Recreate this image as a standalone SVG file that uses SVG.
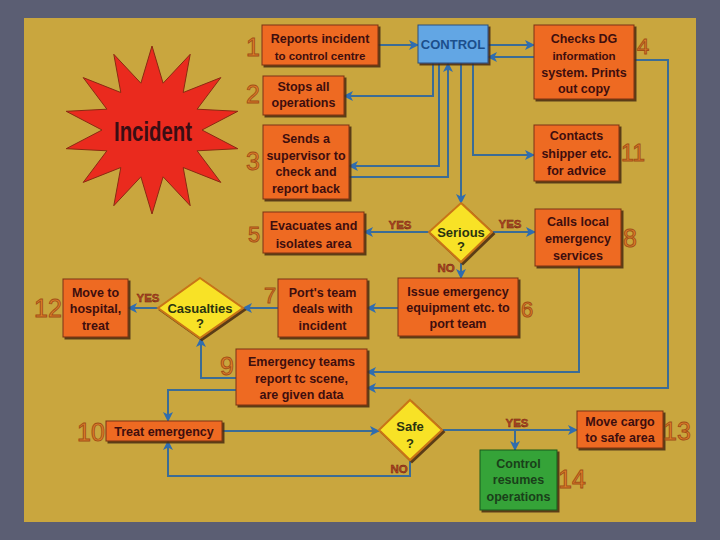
<svg xmlns="http://www.w3.org/2000/svg" width="720" height="540" viewBox="0 0 720 540">
<defs>
<style>
.bx{fill:#ee6a24;stroke:#7a3210;stroke-width:1;filter:url(#sh)}
.gb{fill:#34a338;stroke:#1d5a1d;stroke-width:1;filter:url(#sh)}
.cb{fill:#62a6e4;stroke:#2a4f7a;stroke-width:1;filter:url(#sh)}
.dm{fill:#f8e228;stroke:#c87418;stroke-width:2;filter:url(#sh)}
.t{font-family:"Liberation Sans",Arial,sans-serif;font-weight:bold;font-size:12.5px;fill:#3e0e0e;text-anchor:middle}
.ts{font-size:11.5px}
.tg{fill:#1a401a}
.td{fill:#2a3410;font-size:13px}
.tc{font-family:"Liberation Sans",Arial,sans-serif;font-weight:bold;font-size:13px;fill:#1c4f8c;text-anchor:middle}
.n{font-family:"Liberation Sans",Arial,sans-serif;font-size:25px;fill:#e07e2a;stroke:#a24e16;stroke-width:0.9;text-anchor:middle}
.yn{font-family:"Liberation Sans",Arial,sans-serif;font-weight:bold;font-size:11.5px;fill:#b04422;stroke:#6a2010;stroke-width:0.4;text-anchor:middle}
.c{fill:none;stroke:#3b6c96;stroke-width:2;marker-end:url(#ah)}
</style>
<filter id="sh" x="-10%" y="-10%" width="130%" height="130%">
<feDropShadow dx="2" dy="2" stdDeviation="0.7" flood-color="#4a2a08" flood-opacity="0.85"/>
</filter>
<marker id="ah" viewBox="0 0 10 10" refX="9" refY="5" markerWidth="10" markerHeight="10" markerUnits="userSpaceOnUse" orient="auto">
<path d="M0,0 L10,5 L0,10 L2.5,5 Z" fill="#2f6db0"/>
</marker>
</defs>
<rect x="0" y="0" width="720" height="540" fill="#5b5e73"/>
<rect x="24" y="18" width="672" height="504" fill="#c9a63e"/>

<g id="incident">
<polygon points="152,46 163.1,83.2 190.2,54.3 183.2,92.5 220.8,77.6 197.1,109.2 237.8,111.3 202,130 237.8,148.7 197.1,150.8 220.8,182.4 183.2,167.5 190.2,205.7 163.1,176.8 152,214 140.9,176.8 113.8,205.7 120.8,167.5 83.2,182.4 106.9,150.8 66.2,148.7 102,130 66.2,111.3 106.9,109.2 83.2,77.6 120.8,92.5 113.8,54.3 140.9,83.2" fill="#ea2a1e" stroke="#8a2a12" stroke-width="1"/>
<text x="153" y="141" font-family="Liberation Sans,Arial,sans-serif" font-weight="bold" font-size="27" fill="#3a0e14" text-anchor="middle" textLength="78" lengthAdjust="spacingAndGlyphs">Incident</text>
</g>

<g id="connectors">
<path class="c" d="M378,45 H418"/>
<path class="c" d="M488,45 H534"/>
<path class="c" d="M534,57 H488"/>
<path class="c" d="M634,60 H668 V388 H367"/>
<path class="c" d="M433,63 V96 H344"/>
<path class="c" d="M439,63 V166 H349"/>
<path class="c" d="M349,177 H448 V63"/>
<path class="c" d="M461,63 V203"/>
<path class="c" d="M473,63 V155 H534"/>
<path class="c" d="M429,232 H364"/>
<path class="c" d="M492,232 H535"/>
<path class="c" d="M461,262 V278"/>
<path class="c" d="M398,308 H367"/>
<path class="c" d="M278,308 H243"/>
<path class="c" d="M158,308 H128"/>
<path class="c" d="M579,266 V372 H367"/>
<path class="c" d="M236,378 H201 V338"/>
<path class="c" d="M236,390 H168 V421"/>
<path class="c" d="M222,431 H379"/>
<path class="c" d="M442,430 H577"/>
<path class="c" d="M515,430 V450"/>
<path class="c" d="M410,460 V476 H168 V441"/>
<text class="yn" x="400" y="228.5">YES</text>
<text class="yn" x="510" y="228">YES</text>
<text class="yn" x="446" y="272">NO</text>
<text class="yn" x="148" y="302">YES</text>
<text class="yn" x="517" y="427">YES</text>
<text class="yn" x="399" y="473">NO</text>
</g>

<g id="n1">
<rect class="bx" x="262" y="25" width="116" height="40"/>
<text class="t" x="320" y="42.5">Reports incident</text>
<text class="t ts" x="320" y="59.5">to control centre</text>
<text class="n" x="253" y="56">1</text>
</g>
<g id="control">
<rect class="cb" x="418" y="25" width="70" height="38"/>
<text class="tc" x="453" y="49">CONTROL</text>
</g>
<g id="n2">
<rect class="bx" x="263" y="76" width="81" height="39"/>
<text class="t" x="303.5" y="91">Stops all</text>
<text class="t" x="303.5" y="107">operations</text>
<text class="n" x="253" y="103">2</text>
</g>
<g id="n3">
<rect class="bx" x="263" y="125" width="86" height="74"/>
<text class="t" x="306" y="142.5">Sends a</text>
<text class="t" x="306" y="159.5">supervisor to</text>
<text class="t" x="306" y="176">check and</text>
<text class="t" x="306" y="192.5">report back</text>
<text class="n" x="253" y="170">3</text>
</g>
<g id="n4">
<rect class="bx" x="534" y="25" width="100" height="74"/>
<text class="t" x="584" y="42.5">Checks DG</text>
<text class="t ts" x="584" y="59.5">information</text>
<text class="t" x="584" y="76.5">system. Prints</text>
<text class="t" x="584" y="92.5">out copy</text>
<text class="n" x="643" y="54" style="font-size:22px">4</text>
</g>
<g id="n11">
<rect class="bx" x="534" y="125" width="85" height="56"/>
<text class="t" x="576.5" y="140">Contacts</text>
<text class="t" x="576.5" y="158">shipper etc.</text>
<text class="t" x="576.5" y="174.5">for advice</text>
<text class="n" x="633" y="161" style="font-size:23px">11</text>
</g>
<g id="n5">
<rect class="bx" x="263" y="212" width="101" height="41"/>
<text class="t" x="313.5" y="230">Evacuates and</text>
<text class="t" x="313.5" y="247.5">isolates area</text>
<text class="n" x="254" y="242" style="font-size:22px">5</text>
</g>
<g id="serious">
<polygon class="dm" points="461,203 492,232 461,262 429,232"/>
<text class="t td" x="461" y="236.5">Serious</text>
<text class="t td" x="461" y="251">?</text>
</g>
<g id="n8">
<rect class="bx" x="535" y="209" width="86" height="57"/>
<text class="t" x="578" y="225.5">Calls local</text>
<text class="t" x="578" y="242.5">emergency</text>
<text class="t" x="578" y="260">services</text>
<text class="n" x="630" y="247">8</text>
</g>
<g id="n6">
<rect class="bx" x="398" y="278" width="120" height="58"/>
<text class="t" x="458" y="295.5">Issue emergency</text>
<text class="t" x="458" y="312">equipment etc. to</text>
<text class="t" x="458" y="327.5">port team</text>
<text class="n" x="527" y="317" style="font-size:22px">6</text>
</g>
<g id="n7">
<rect class="bx" x="278" y="279" width="89" height="58"/>
<text class="t" x="322.5" y="296.5">Port's team</text>
<text class="t" x="322.5" y="312.5">deals with</text>
<text class="t" x="322.5" y="329.5">incident</text>
<text class="n" x="270" y="303" style="font-size:22px">7</text>
</g>
<g id="casualties">
<polygon class="dm" points="200,278 243,308 200,338 158,308"/>
<text class="t td" x="200" y="312.5">Casualties</text>
<text class="t td" x="200" y="328">?</text>
</g>
<g id="n12">
<rect class="bx" x="63" y="279" width="65" height="58"/>
<text class="t" x="95.5" y="296.5">Move to</text>
<text class="t" x="95.5" y="312.5">hospital,</text>
<text class="t" x="95.5" y="329.5">treat</text>
<text class="n" x="48" y="317">12</text>
</g>
<g id="n9">
<rect class="bx" x="236" y="349" width="131" height="56"/>
<text class="t" x="301.5" y="366">Emergency teams</text>
<text class="t" x="301.5" y="382.5">report tc scene,</text>
<text class="t" x="301.5" y="399">are given data</text>
<text class="n" x="227" y="375">9</text>
</g>
<g id="n10">
<rect class="bx" x="106" y="421" width="116" height="20"/>
<text class="t" x="164" y="435.5">Treat emergency</text>
<text class="n" x="91" y="441">10</text>
</g>
<g id="safe">
<polygon class="dm" points="410,400 442,430 410,460 379,430"/>
<text class="t td" x="410" y="431">Safe</text>
<text class="t td" x="410" y="448">?</text>
</g>
<g id="n13">
<rect class="bx" x="577" y="411" width="86" height="37"/>
<text class="t" x="620" y="425.5">Move cargo</text>
<text class="t" x="620" y="441.5">to safe area</text>
<text class="n" x="677" y="440">13</text>
</g>
<g id="n14">
<rect class="gb" x="480" y="450" width="77" height="60"/>
<text class="t tg" x="518.5" y="467.5">Control</text>
<text class="t tg" x="518.5" y="483.5">resumes</text>
<text class="t tg" x="518.5" y="500.5">operations</text>
<text class="n" x="572" y="488">14</text>
</g>
</svg>
